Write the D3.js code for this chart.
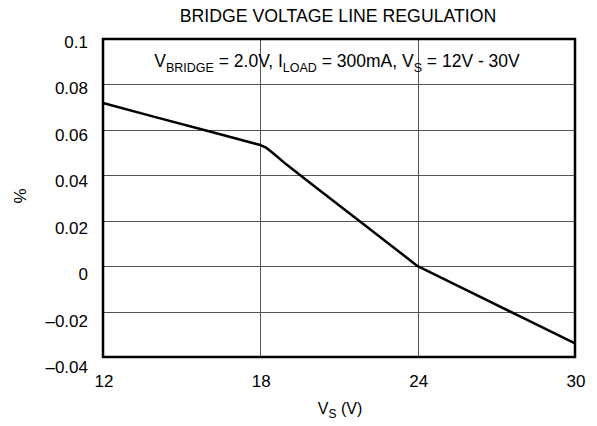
<!DOCTYPE html>
<meta charset="utf-8">
<html>
  <head>
    <style>
      body { margin: 0; background: #fff; }
      text { font-family: "Liberation Sans", Arial, sans-serif; fill: #000; }
      .grid line { stroke: #555; stroke-width: 1px; shape-rendering: crispEdges; }
    </style>
    <script src="https://d3js.org/d3.v7.min.js"></script>
  </head>
  <body>
    <div id="chart"></div>
    <script type="text/javascript">
      // values
      var vsValues   = [12, 14, 16, 17, 18, 18.2, 18.5, 19, 20, 22, 24, 26, 28, 30],
          regulation = [0.0718, 0.0656, 0.0595, 0.0564, 0.0533, 0.0523, 0.0496, 0.0447, 0.0357, 0.0179, 0, -0.0113, -0.0227, -0.034],
          xTicks = [12, 18, 24, 30],
          yTicks = [0.1, 0.08, 0.06, 0.04, 0.02, 0, -0.02, -0.04],
          yTickLabels = ["0.1", "0.08", "0.06", "0.04", "0.02", "0", "\u20130.02", "\u20130.04"];

      var width = 597, height = 426,
          margin = { top: 39, right: 22, bottom: 69, left: 103 },
          w = width - margin.left - margin.right,
          h = height - margin.top - margin.bottom;

      var svg = d3.select("#chart").append("svg")
          .attr("width", width)
          .attr("height", height);

      var g = svg.append("g")
          .attr("transform", "translate(" + margin.left + "," + margin.top + ")");

      var x = d3.scaleLinear().domain([12, 30]).range([0, w]);
      var y = d3.scaleLinear().domain([-0.04, 0.1]).range([h, 0]);
      // labels drift slightly lower than the gridlines in the original
      var yLabel = d3.scaleLinear().domain([-0.04, 0.1]).range([h + 10, 3]);

      // grid
      var grid = g.append("g").attr("class", "grid");
      grid.selectAll(".hgrid")
          .data(yTicks.slice(1, -1))
          .enter().append("line")
            .attr("x1", 0).attr("x2", w)
            .attr("y1", function(d) { return Math.round(y(d)) + 0.5; })
            .attr("y2", function(d) { return Math.round(y(d)) + 0.5; });
      grid.selectAll(".vgrid")
          .data(xTicks.slice(1, -1))
          .enter().append("line")
            .attr("y1", 0).attr("y2", h)
            .attr("x1", function(d) { return Math.round(x(d)) + 0.5; })
            .attr("x2", function(d) { return Math.round(x(d)) + 0.5; });

      // frame
      g.append("rect")
          .attr("x", 0).attr("y", 0)
          .attr("width", w).attr("height", h)
          .attr("fill", "none")
          .attr("stroke", "#000")
          .attr("stroke-width", 2.5);

      // tick labels
      g.selectAll(".ylab")
          .data(yTicks)
          .enter().append("text")
            .attr("x", -15)
            .attr("y", function(d) { return yLabel(d); })
            .attr("dy", "0.35em")
            .style("text-anchor", "end")
            .style("font-size", "17px")
            .text(function(d, i) { return yTickLabels[i]; });

      g.selectAll(".xlab")
          .data(xTicks)
          .enter().append("text")
            .attr("x", function(d) { return x(d) + 1; })
            .attr("y", h + 30)
            .style("text-anchor", "middle")
            .style("font-size", "17px")
            .text(function(d) { return d; });

      // curve
      var line = d3.line()
          .x(function(d, i) { return x(vsValues[i]); })
          .y(function(d) { return y(d); });

      g.append("path")
          .datum(regulation)
          .attr("fill", "none")
          .attr("stroke", "#000")
          .attr("stroke-width", 2.5)
          .attr("stroke-linejoin", "round")
          .attr("d", line);

      // title
      svg.append("text")
          .attr("x", 338).attr("y", 22)
          .style("text-anchor", "middle")
          .style("font-size", "17.7px")
          .text("BRIDGE VOLTAGE LINE REGULATION");

      // condition note
      var note = svg.append("text")
          .attr("x", 337).attr("y", 67)
          .style("text-anchor", "middle")
          .style("font-size", "17.5px");
      note.append("tspan").text("V");
      note.append("tspan").attr("dy", 5).style("font-size", "12.5px").text("BRIDGE");
      note.append("tspan").attr("dy", -5).text(" = 2.0V, I");
      note.append("tspan").attr("dy", 5).style("font-size", "12.5px").text("LOAD");
      note.append("tspan").attr("dy", -5).text(" = 300mA, V");
      note.append("tspan").attr("dy", 5).style("font-size", "12.5px").text("S");
      note.append("tspan").attr("dy", -5).text(" = 12V - 30V");

      // axis titles
      var xt = svg.append("text")
          .attr("x", 340).attr("y", 414)
          .style("text-anchor", "middle")
          .style("font-size", "16px");
      xt.append("tspan").text("V");
      xt.append("tspan").attr("dy", 4).style("font-size", "12px").text("S");
      xt.append("tspan").attr("dy", -4).text(" (V)");

      svg.append("text")
          .attr("transform", "translate(26,196) rotate(-90)")
          .style("text-anchor", "middle")
          .style("font-size", "17px")
          .text("%");
    </script>
  </body>
</html>
